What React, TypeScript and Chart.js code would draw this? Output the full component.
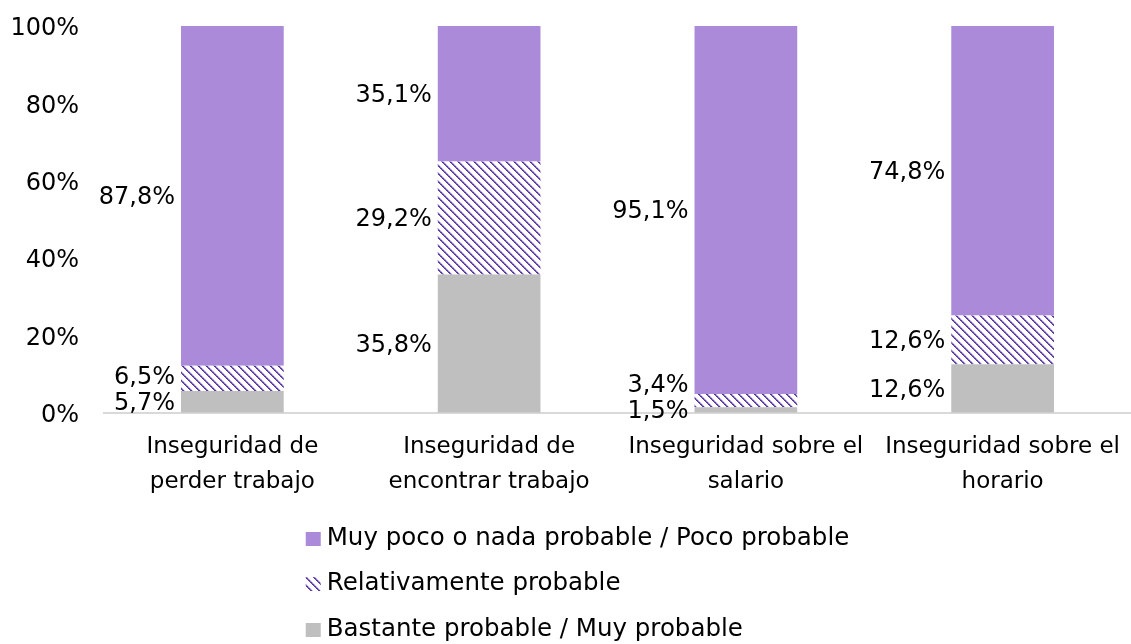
import React, { useEffect, useRef } from "react";
import { Chart, registerables } from "chart.js";

Chart.register(...registerables);

const categories: string[][] = [
  ["Inseguridad de", "perder trabajo"],
  ["Inseguridad de", "encontrar trabajo"],
  ["Inseguridad sobre el", "salario"],
  ["Inseguridad sobre el", "horario"],
];
const seriesNames = [
  "Bastante probable / Muy probable",
  "Relativamente probable",
  "Muy poco o nada probable / Poco probable",
];
const bastante = [5.7, 35.8, 1.5, 12.6];
const relativamente = [6.5, 29.2, 3.4, 12.6];
const muyPoco = [87.8, 35.1, 95.1, 74.8];
const yTicks = [0, 20, 40, 60, 80, 100];

const FONT = "'DejaVu Sans', sans-serif";
const PURPLE = "#AB8AD9";
const GREY = "#BFBFBF";

function makeHatch(): CanvasPattern | string {
  const tile = document.createElement("canvas");
  tile.width = 8;
  tile.height = 8;
  const t = tile.getContext("2d");
  if (!t) return "#8e6cc8";
  t.fillStyle = "#ffffff";
  t.fillRect(0, 0, 8, 8);
  for (let y = 0; y < 8; y++) {
    for (let x = 0; x < 8; x++) {
      const d = (((x - y) % 8) + 8) % 8;
      if (d === 0) {
        t.fillStyle = x % 2 === 0 ? "#55369a" : "#6647a8";
        t.fillRect(x, y, 1, 1);
      } else if (d === 1) {
        t.fillStyle = x % 2 === 0 ? "#8469c2" : "#5f40a4";
        t.fillRect(x, y, 1, 1);
      } else if (d === 2) {
        t.fillStyle = "#cfc0ec";
        t.fillRect(x, y, 1, 1);
      }
    }
  }
  const c = document.createElement("canvas").getContext("2d");
  const p = c ? c.createPattern(tile, "repeat") : null;
  return p || "#8e6cc8";
}

const fmt = (v: number) => v.toFixed(1).replace(".", ",") + "%";

const labelPlugin = {
  id: "segLabels",
  afterDatasetsDraw(chart: any) {
    const ctx = chart.ctx;
    ctx.save();
    ctx.font = `24px ${FONT}`;
    ctx.fillStyle = "#000";
    ctx.textAlign = "right";
    ctx.textBaseline = "middle";
    const n = chart.data.labels.length;
    for (let i = 0; i < n; i++) {
      let prevY = Infinity;
      for (let d = 0; d < chart.data.datasets.length; d++) {
        const meta = chart.getDatasetMeta(d);
        const el: any = meta.data[i];
        if (!el) continue;
        const v = chart.data.datasets[d].data[i] as number;
        const top = Math.max(el.y, chart.chartArea.top);
        let y = (top + el.base) / 2 + 2;
        if (y > prevY - 26) y = prevY - 26;
        prevY = y;
        ctx.fillText(fmt(v), el.x - el.width / 2 - 6, y);
      }
    }
    ctx.restore();
  },
};

const legendPlugin = {
  id: "stackLegend",
  afterDraw(chart: any) {
    const ctx = chart.ctx;
    const ds = chart.data.datasets;
    const order = [2, 1, 0];
    ctx.save();
    ctx.font = `24.5px ${FONT}`;
    const widths = order.map((i) => ctx.measureText(ds[i].label).width);
    const blockW = Math.max(...widths) + 21;
    const x0 = (chart.width - blockW) / 2 + 12;
    const offs = [126, 171, 217];
    order.forEach((i, k) => {
      const y = chart.chartArea.bottom + offs[k];
      ctx.fillStyle = ds[i].backgroundColor;
      ctx.fillRect(x0, y - 7, 15, 14);
      ctx.fillStyle = "#000";
      ctx.textAlign = "left";
      ctx.textBaseline = "middle";
      ctx.fillText(ds[i].label, x0 + 21, y);
    });
    ctx.restore();
  },
};

export default function App() {
  const ref = useRef<HTMLCanvasElement | null>(null);
  useEffect(() => {
    if (!ref.current) return;
    const hatch = makeHatch();
    const chart = new Chart(ref.current, {
      type: "bar",
      data: {
        labels: categories,
        datasets: [
          { label: seriesNames[0], data: bastante, backgroundColor: GREY, borderWidth: 0 },
          { label: seriesNames[1], data: relativamente, backgroundColor: hatch as any, borderWidth: 0 },
          { label: seriesNames[2], data: muyPoco, backgroundColor: PURPLE, borderWidth: 0 },
        ],
      },
      options: {
        animation: false,
        responsive: true,
        maintainAspectRatio: false,
        layout: { padding: { top: 26, bottom: 150, left: 0, right: 0 } },
        datasets: { bar: { barPercentage: 0.4, categoryPercentage: 1 } },
        plugins: {
          legend: { display: false },
          tooltip: { enabled: false },
        },
        scales: {
          x: {
            stacked: true,
            grid: {
              display: true,
              drawOnChartArea: false,
              drawTicks: true,
              tickLength: 16,
              color: "rgba(0,0,0,0)",
            },
            border: { display: true, color: "#D9D9D9", width: 2 },
            ticks: {
              color: "#000",
              font: { family: FONT, size: 23, lineHeight: 1.55 },
              padding: 0,
              maxRotation: 0,
              autoSkip: false,
            },
            afterFit: (s: any) => {
              s.height = 81;
            },
          },
          y: {
            stacked: true,
            min: 0,
            max: 100,
            grid: {
              display: true,
              drawOnChartArea: false,
              drawTicks: true,
              tickLength: 25,
              color: "rgba(0,0,0,0)",
            },
            border: { display: false },
            afterBuildTicks: (s: any) => {
              s.ticks = yTicks.map((v) => ({ value: v }));
            },
            ticks: {
              color: "#000",
              font: { family: FONT, size: 24 },
              padding: 0,
              labelOffset: 3,
              callback: (v: any) => v + "%",
            },
            afterFit: (s: any) => {
              s.width = 104;
            },
          },
        },
      },
      plugins: [labelPlugin, legendPlugin],
    });
    return () => chart.destroy();
  }, []);
  return (
    <div style={{ position: "absolute", left: 0, top: 0, width: 1131, height: 644, background: "#fff" }}>
      <canvas ref={ref} />
    </div>
  );
}
